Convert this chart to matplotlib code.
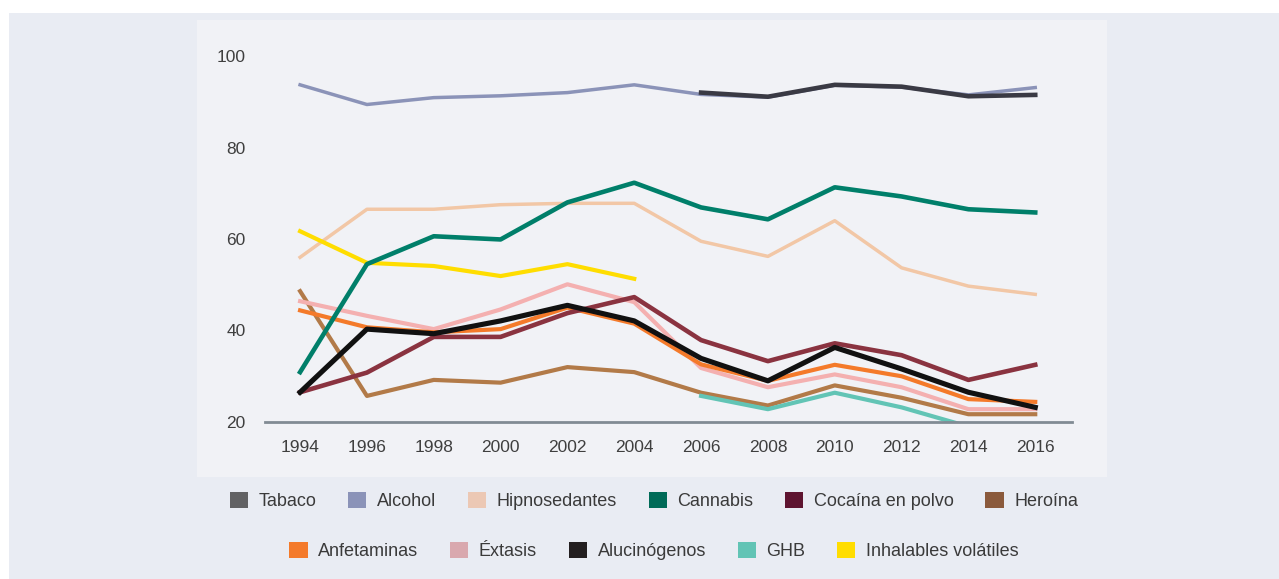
import matplotlib.pyplot as plt
from matplotlib.patches import Patch, Rectangle

years = [1994, 1996, 1998, 2000, 2002, 2004, 2006, 2008, 2010, 2012, 2014, 2016]
years_06 = years[6:]
years_04 = years[:6]

alcohol = [93.7, 89.4, 90.9, 91.3, 92.0, 93.7, 91.6, 91.0, 93.6, 93.2, 91.5, 93.1]
tabaco = [92.0, 91.1, 93.7, 93.3, 91.2, 91.5]
hipnosedantes = [56.0, 66.5, 66.5, 67.5, 67.8, 67.8, 59.5, 56.2, 64.0, 53.7, 49.7, 47.9]
cannabis = [30.9, 54.5, 60.6, 59.9, 68.0, 72.3, 66.9, 64.3, 71.3, 69.3, 66.5, 65.8]
cocaina = [26.5, 30.8, 38.6, 38.6, 43.8, 47.3, 37.9, 33.3, 37.2, 34.6, 29.2, 32.5]
heroina = [48.6, 25.7, 29.2, 28.6, 32.0, 30.9, 26.4, 23.6, 28.0, 25.3, 21.7, 21.7]
anfetaminas = [44.4, 40.7, 39.6, 40.3, 45.0, 41.5, 32.6, 29.0, 32.5, 30.0, 25.0, 24.4]
extasis = [46.4, 43.2, 40.3, 44.6, 50.1, 46.2, 31.8, 27.6, 30.4, 27.6, 22.8, 22.8]
alucinogenos = [26.5, 40.3, 39.3, 42.1, 45.5, 42.1, 33.9, 29.0, 36.3, 31.6, 26.5, 23.2]
ghb = [25.7, 22.8, 26.4, 23.2, 19.0]
ghb_years = years[6:11]
inhalables = [61.7, 54.8, 54.1, 51.9, 54.5, 51.3]

legend_names = ["Tabaco", "Alcohol", "Hipnosedantes", "Cannabis", "Cocaína en polvo", "Heroína",
                "Anfetaminas", "Éxtasis", "Alucinógenos", "GHB", "Inhalables volátiles"]
legend_colors = ["#626264", "#8b93b8", "#ecc8b4", "#006b58", "#5e1430", "#8b5a3c",
                 "#f47a2a", "#d9a8ae", "#231f20", "#62c4b5", "#ffdd00"]

plt.rcParams['font.family'] = ['Liberation Sans', 'DejaVu Sans']

fig = plt.figure(figsize=(12.79, 5.79), dpi=100)
fig.patch.set_facecolor("white")
# outer band and lighter plot panel
fig.patches.append(Rectangle((9 / 1279, 0), 1, 1 - 13 / 579, transform=fig.transFigure,
                             facecolor="#e9ecf3", edgecolor="none", zorder=-2))
fig.patches.append(Rectangle((197 / 1279, 1 - 477 / 579), 910 / 1279, 457 / 579,
                             transform=fig.transFigure, facecolor="#f1f2f6",
                             edgecolor="none", zorder=-1))

ax = fig.add_axes([265 / 1279, 1 - 422 / 579, 807 / 1279, 366 / 579])
ax.set_facecolor("none")
ax.set_xlim(1992.95, 2017.1)
ax.set_ylim(20, 100)

ax.plot(years, alcohol, color="#8b93b8", lw=2.5)
ax.plot(years, hipnosedantes, color="#f2c7a6", lw=2.5)
ax.plot(years_04, inhalables, color="#ffdd00", lw=3.0)
ax.plot(years, heroina, color="#b27a48", lw=3.0)
ax.plot(ghb_years, ghb, color="#62c4b5", lw=3.0)
ax.plot(years, extasis, color="#f4b0b0", lw=3.0)
ax.plot(years, anfetaminas, color="#f47a2a", lw=3.0)
ax.plot(years, cocaina, color="#8a3340", lw=3.3)
ax.plot(years, alucinogenos, color="#111111", lw=3.7)
ax.plot(years, cannabis, color="#007f6a", lw=3.3)
ax.plot(years_06, tabaco, color="#3a3a44", lw=3.3)

for s in ["top", "right", "left"]:
    ax.spines[s].set_visible(False)
ax.spines["bottom"].set_color("#818b94")
ax.spines["bottom"].set_linewidth(2)

ax.set_xticks(years)
ax.set_yticks([20, 40, 60, 80, 100])
ax.tick_params(axis="x", length=0, pad=13, labelsize=12.5, labelcolor="#3f3f3f")
ax.tick_params(axis="y", length=0, pad=14, labelsize=12.5, labelcolor="#3f3f3f")

handles = [Patch(facecolor=c, edgecolor="none") for c in legend_colors]
common = dict(frameon=False, handlelength=1.0, handleheight=1.0, handletextpad=0.6,
              columnspacing=1.75, fontsize=13, labelcolor="#3a3a3a", borderpad=0)
leg1 = fig.legend(handles[:6], legend_names[:6], ncol=6, loc="center",
                  bbox_to_anchor=(654 / 1279, 1 - 501 / 579), **common)
leg2 = fig.legend(handles[6:], legend_names[6:], ncol=5, loc="center",
                  bbox_to_anchor=(654 / 1279, 1 - 551 / 579), **common)

fig.savefig("out.png", dpi=100, facecolor=fig.get_facecolor())
